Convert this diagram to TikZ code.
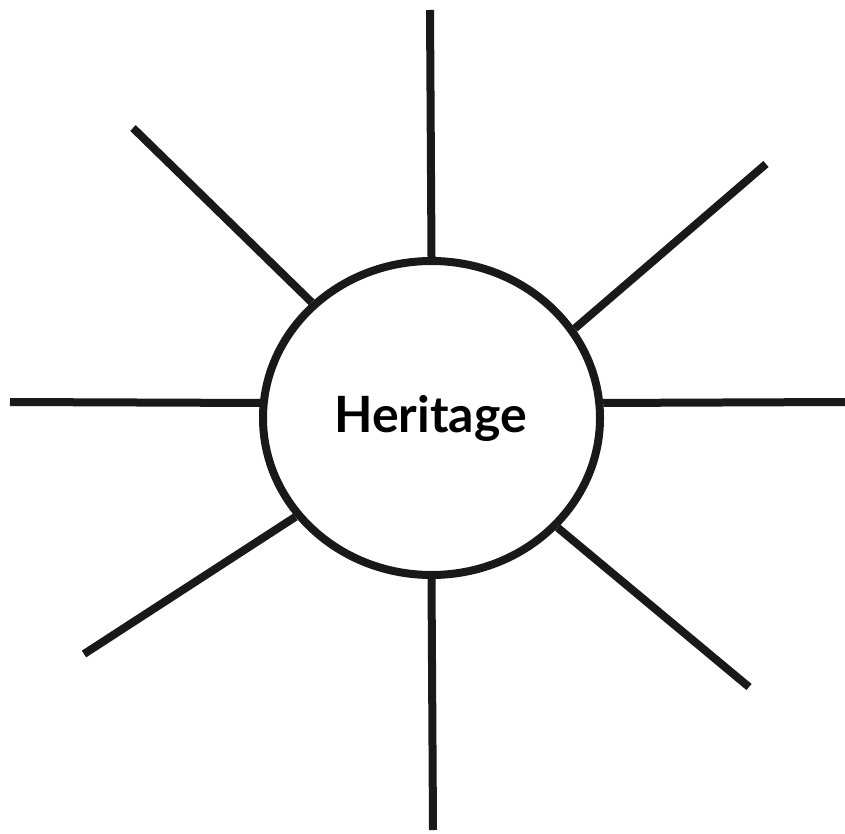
\documentclass[tikz,border=0pt]{standalone}
\usepackage{fontspec}
\setmainfont{Lato}
\usetikzlibrary{shapes.geometric}
\begin{document}
\begin{tikzpicture}[x=0.5pt,y=-0.5pt,
  spoke/.style={line width=4pt,black!90},
  hub/.style={ellipse,draw=black!90,line width=4pt,inner sep=0pt,minimum width=168.5pt,minimum height=157pt,font=\fontsize{25}{30}\selectfont\bfseries}]
\useasboundingbox (0,0) rectangle (845,834);
\node[hub] (c) at (431.5,418) {};
\node[font=\fontsize{25}{30}\selectfont\bfseries] (t) at (430.5,418) {Heritage};
\coordinate (oT) at (430,10);
\coordinate (oUL) at (133,128);
\coordinate (oUR) at (766,164);
\coordinate (oL) at (10,402);
\coordinate (oR) at (845,402);
\coordinate (oLL) at (84,654);
\coordinate (oLR) at (749,687);
\coordinate (oB) at (433,830);
\draw[spoke] (oT) -- (c.90);
\draw[spoke] (oUL) -- (c.136.6);
\draw[spoke] (oUR) -- (c.32.8);
\draw[spoke] (oL) -- (c.175);
\draw[spoke] (oR) -- (c.5);
\draw[spoke] (oLL) -- (c.216.2);
\draw[spoke] (oLR) -- (c.319.6);
\draw[spoke] (oB) -- (c.270);
\end{tikzpicture}
\end{document}
